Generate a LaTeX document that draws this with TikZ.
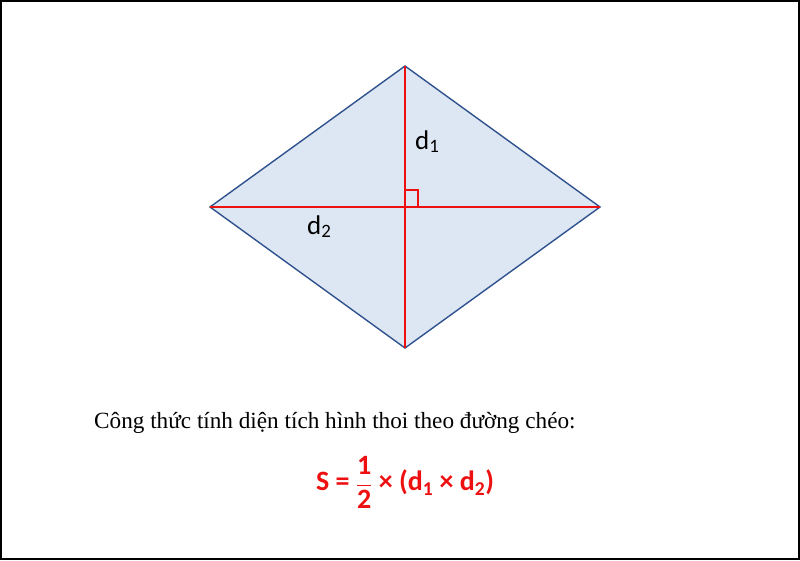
\documentclass[tikz,border=0pt]{standalone}
\usepackage{fontspec}
\setmainfont{Liberation Serif}
\newfontfamily\calib{Carlito}
\definecolor{fillblue}{RGB}{221,231,243}
\definecolor{edgeblue}{RGB}{47,82,143}
\definecolor{diagred}{RGB}{238,16,16}
\tikzset{
  diag/.style={draw=diagred, line width=2.6pt},
  lbl/.style={font=\calib\fontsize{27}{31}\selectfont, inner sep=0pt},
}
\begin{document}
\begin{tikzpicture}[x=1pt,y=-1pt]
\useasboundingbox (0,0) rectangle (800,560);
\draw[line width=2pt] (1,1) rectangle (799,559);
\coordinate (T) at (405,66);
\coordinate (L) at (210,207);
\coordinate (R) at (600,207);
\coordinate (B) at (405,348);
\filldraw[fill=fillblue, draw=edgeblue, line width=1.4pt, line join=miter] (T) -- (R) -- (B) -- (L) -- cycle;
\draw[diag] (L) -- (R);
\draw[diag] (T) -- (B);
\draw[draw=diagred, line width=1.4pt] (405,190) -- (418,190) -- (418,206);
\node[lbl, anchor=base west] (d1) at (415,149) {d\textsubscript{1}};
\node[lbl, anchor=base west] (d2) at (307,234) {d\textsubscript{2}};
\node[anchor=base west, inner sep=0pt, font=\fontsize{23.2}{27}\selectfont] (txt) at (94,428) {Công thức tính diện tích hình thoi theo đường chéo:};
\node[inner sep=0pt, text=diagred, font=\calib\bfseries\fontsize{28}{32}\selectfont] (f) at (405,482)
 {S = $\displaystyle\frac{\mbox{1}}{\mbox{2}}$ × (d\textsubscript{1} × d\textsubscript{2})};
\end{tikzpicture}
\end{document}
